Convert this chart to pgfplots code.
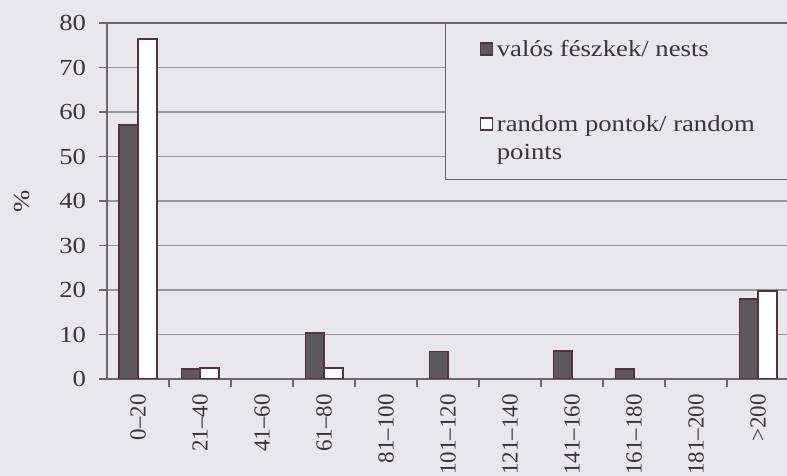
\documentclass[border=0pt]{standalone}
\usepackage{pgfplots}
\pgfplotsset{compat=1.18}
\usepackage{fontspec}
\setmainfont{Liberation Serif}[FakeStretch=1.16]
\newfontfamily\plainserif{Liberation Serif}[Ligatures=TeX]
\definecolor{bg}{RGB}{232,231,236}
\definecolor{txt}{RGB}{60,52,58}
\definecolor{edge}{RGB}{85,50,60}
\definecolor{darkfill}{RGB}{92,88,92}
\definecolor{gridc}{RGB}{150,148,152}
\definecolor{axisc}{RGB}{110,100,108}
\begin{document}
\begin{tikzpicture}[x=1pt,y=1pt,font=\fontsize{11.5}{14}\selectfont]
\fill[bg] (0,0) rectangle (393.5,238);
\useasboundingbox (0,0) rectangle (393.5,238);
\begin{axis}[
  at={(53.5pt,48.5pt)}, anchor=south west,
  scale only axis, width=341pt, height=178pt,
  xmin=-0.5, xmax=10.5, ymin=0, ymax=80,
  ytick={0,10,...,80},
  xtick={0,...,10},
  xticklabels={0–20,21–40,41–60,61–80,81–100,101–120,121–140,141–160,161–180,181–200,>200},
  minor xtick={0.5,1.5,...,9.5},
  major x tick style={draw=none},
  tick pos=left,
  tick align=outside,
  major tick length=4pt,
  minor tick length=4pt,
  tick style={axisc, line width=0.6pt},
  axis line style={axisc, line width=1pt},
  ymajorgrids,
  grid style={gridc, line width=0.6pt},
  /pgf/number format/assume math mode=true,
  ticklabel style={text=txt},
  yticklabel style={xshift=-3pt},
  xticklabel style={rotate=90, anchor=east, font=\plainserif\fontsize{11.5}{14}\selectfont},
  ylabel={\%},
  ylabel style={at={(axis description cs:-0.124,0.5)}, anchor=center, text=txt},
  ybar=0pt, bar width=0.3,
  legend style={at={(0.4956,1)}, anchor=north west, draw=axisc, fill=bg,
    line width=0.5pt, inner xsep=17pt, inner ysep=6.5pt, row sep=24pt, text=txt,
    nodes={align=left}},
  legend cell align=left,
]
\addplot[bar shift=-0.15, fill=darkfill, draw=edge, line width=0.9pt,
  legend image code/.code={\draw[darkfill, draw=edge, line width=0.7pt] (0pt,-2.5pt) rectangle (6pt,3.5pt);}]
  coordinates {(0,57) (1,2.3) (3,10.4) (5,6.2) (7,6.3) (8,2.2) (10,18)};
\addlegendentry{valós fészkek/ nests}
\addplot[bar shift=0.15, fill=white, draw=edge, line width=0.9pt,
  legend image code/.code={\draw[fill=white, draw=edge, line width=0.7pt] (0pt,4.5pt) rectangle (6pt,10.5pt);}]
  coordinates {(0,76.4) (1,2.5) (3,2.5) (10,19.8)};
\addlegendentry{random pontok/ random\\points}
\end{axis}
\end{tikzpicture}
\end{document}
